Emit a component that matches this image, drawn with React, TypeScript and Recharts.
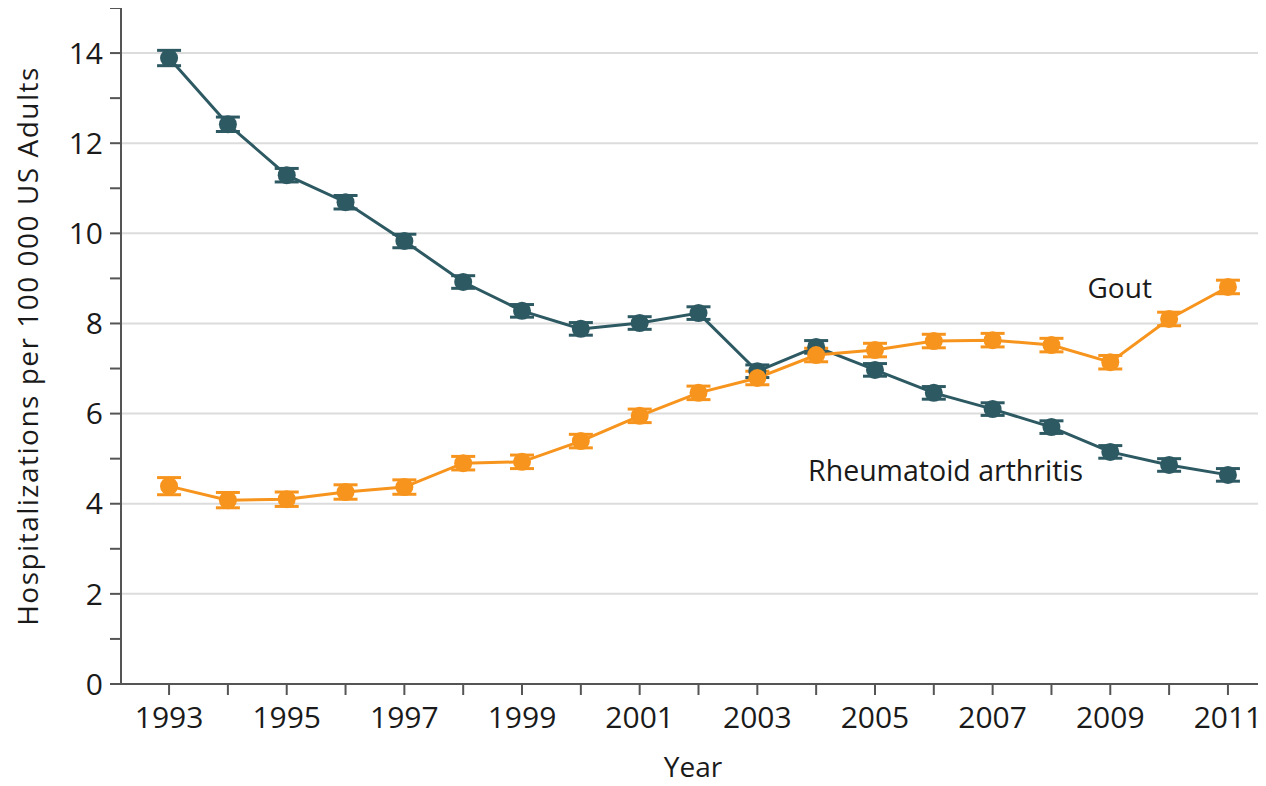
import React from 'react';
import { LineChart, Line, XAxis, YAxis, CartesianGrid, ErrorBar, ReferenceDot, Label } from 'recharts';

const years = [1993, 1994, 1995, 1996, 1997, 1998, 1999, 2000, 2001, 2002, 2003, 2004, 2005, 2006, 2007, 2008, 2009, 2010, 2011];
const rheumatoid = [13.89, 12.42, 11.29, 10.69, 9.83, 8.92, 8.28, 7.88, 8.01, 8.23, 6.94, 7.48, 6.97, 6.46, 6.10, 5.70, 5.15, 4.86, 4.64];
const rheumatoidErr = [0.17, 0.16, 0.15, 0.15, 0.15, 0.14, 0.14, 0.14, 0.14, 0.14, 0.14, 0.14, 0.14, 0.14, 0.14, 0.14, 0.14, 0.14, 0.14];
const gout = [4.39, 4.08, 4.10, 4.26, 4.37, 4.90, 4.93, 5.39, 5.95, 6.46, 6.79, 7.30, 7.41, 7.61, 7.63, 7.52, 7.14, 8.10, 8.81];
const goutErr = [0.19, 0.17, 0.16, 0.16, 0.16, 0.15, 0.15, 0.15, 0.15, 0.15, 0.15, 0.15, 0.15, 0.15, 0.15, 0.15, 0.15, 0.15, 0.15];
const xTicks = years;
const yTicks = [0, 1, 2, 3, 4, 5, 6, 7, 8, 9, 10, 11, 12, 13, 14, 15];
const gridValues = [2, 4, 6, 8, 10, 12, 14];

const data = years.map((y, i) => ({
  year: y,
  ra: rheumatoid[i],
  raErr: rheumatoidErr[i],
  gout: gout[i],
  goutErr: goutErr[i],
}));

const TEAL = '#2d5963';
const ORANGE = '#f7941d';
const FONT = '"Open Sans", sans-serif';

const makeDot = (color: string) => (props: any) => {
  const { cx, cy, index } = props;
  if (cx == null || cy == null) return <g key={index} />;
  return <circle key={index} cx={cx} cy={cy} r={9} fill={color} stroke="none" />;
};

export default function App() {
  return (
    <div style={{ width: 1258, height: 778, background: '#fff' }}>
      <LineChart width={1258} height={778} data={data} margin={{ top: 0, right: 1, bottom: 0, left: 0 }}>
        <CartesianGrid horizontal={true} vertical={false} horizontalValues={gridValues} stroke="#dcdcdc" strokeWidth={2} />
        <XAxis
          dataKey="year"
          type="number"
          domain={[1992.183, 2011.63]}
          ticks={xTicks}
          interval={0}
          allowDataOverflow
          height={102}
          tickSize={11}
          tickMargin={12}
          stroke="#555"
          strokeWidth={2}
          tick={{ fill: '#1a1a1a', fontSize: 30, fontFamily: FONT }}
          tickFormatter={(v: number) => (v % 2 === 1 ? String(v) : '')}
        >
          <Label value="Year" position="insideBottom" offset={9} style={{ fill: '#1a1a1a', fontSize: 28, fontFamily: FONT }} />
        </XAxis>
        <YAxis
          type="number"
          domain={[0, 15]}
          ticks={yTicks}
          interval={0}
          allowDataOverflow
          width={113}
          tickSize={11}
          tickMargin={7}
          stroke="#555"
          strokeWidth={2}
          tick={{ fill: '#1a1a1a', fontSize: 30, fontFamily: FONT }}
          tickFormatter={(v: number) => (v % 2 === 0 && v !== 15 ? String(v) : '')}
        >
          <Label
            value="Hospitalizations per 100 000 US Adults"
            angle={-90}
            position="insideLeft"
            offset={20}
            style={{ fill: '#1a1a1a', fontSize: 28, letterSpacing: 1.5, fontFamily: FONT, textAnchor: 'middle' }}
          />
        </YAxis>
        <Line
          dataKey="ra"
          stroke={TEAL}
          strokeWidth={3}
          dot={makeDot(TEAL)}
          activeDot={false}
          isAnimationActive={false}
        >
          <ErrorBar dataKey="raErr" direction="y" width={12} stroke={TEAL} strokeWidth={3} />
        </Line>
        <Line
          dataKey="gout"
          stroke={ORANGE}
          strokeWidth={3}
          dot={makeDot(ORANGE)}
          activeDot={false}
          isAnimationActive={false}
        >
          <ErrorBar dataKey="goutErr" direction="y" width={12} stroke={ORANGE} strokeWidth={3} />
        </Line>
        <ReferenceDot x={2009.16} y={8.79} r={0} fill="none" stroke="none">
          <Label value="Gout" position="center" style={{ fill: '#1a1a1a', fontSize: 28, fontFamily: FONT }} />
        </ReferenceDot>
        <ReferenceDot x={2006.2} y={4.73} r={0} fill="none" stroke="none">
          <Label value="Rheumatoid arthritis" position="center" style={{ fill: '#1a1a1a', fontSize: 28.5, fontFamily: FONT }} />
        </ReferenceDot>
      </LineChart>
    </div>
  );
}
